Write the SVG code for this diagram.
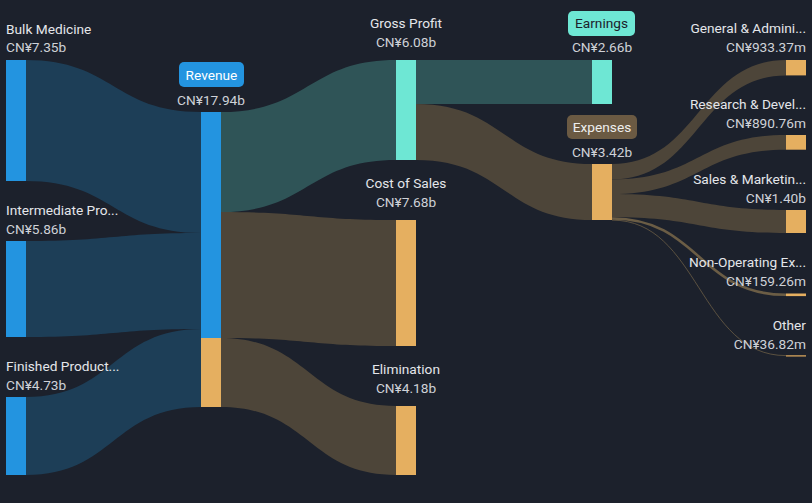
<svg xmlns="http://www.w3.org/2000/svg" width="812" height="503" viewBox="0 0 812 503">
<style>
.bg{fill:#1c212c}
.fb{fill:#1d3e57}
.ft{fill:#2f5457}
.fn{fill:#4d4539}
.bb{fill:#2394e0}
.bt{fill:#6ee7d4}
.bn{fill:#e5af60}
text{font-family:Roboto,"Liberation Sans",sans-serif;font-size:13.7px}
.lb{fill:#e4e6ea}
.vl{fill:#cfd2d8}
.m{text-anchor:middle}
.e{text-anchor:end}
</style>
<rect class="bg" x="0" y="0" width="812" height="503"/>
<g id="connectors">
<path class="fb" d="M26,60 C113.5,60 113.5,112 201,112 L201,233 C113.5,233 113.5,181 26,181 Z"/>
<path class="fb" d="M26,241 C113.5,241 113.5,233 201,233 L201,329 C113.5,329 113.5,337 26,337 Z"/>
<path class="fb" d="M26,397 C113.5,397 113.5,329 201,329 L201,407 C113.5,407 113.5,475 26,475 Z"/>
<path class="ft" d="M221,112 C308.5,112 308.5,60 396,60 L396,160 C308.5,160 308.5,212 221,212 Z"/>
<path class="fn" d="M221,212 C308.5,212 308.5,220 396,220 L396,346 C308.5,346 308.5,338 221,338 Z"/>
<path class="fn" d="M221,338 C308.5,338 308.5,406 396,406 L396,475 C308.5,475 308.5,407 221,407 Z"/>
<path class="ft" d="M416,60 C504,60 504,60 592,60 L592,104 C504,104 504,104 416,104 Z"/>
<path class="fn" d="M416,104 C504,104 504,164 592,164 L592,220 C504,220 504,160 416,160 Z"/>
<path class="fn" d="M612,164 C699,164 699,60 786,60 L786,75.4 C699,75.4 699,179.4 612,179.4 Z"/>
<path class="fn" d="M612,179.4 C699,179.4 699,135 786,135 L786,149.7 C699,149.7 699,194.1 612,194.1 Z"/>
<path class="fn" d="M612,194.1 C699,194.1 699,210 786,210 L786,233 C699,233 699,217.2 612,217.2 Z"/>
<path d="M612,218.5 C699,218.5 699,294.8 786,294.8" fill="none" stroke="#6b5d45" stroke-width="2.6"/>
<path d="M612,220.1 C699,220.1 699,355.6 786,355.6" fill="none" stroke="#6b5d45" stroke-width="0.8"/>
</g>
<g id="bulk-medicine">
<rect class="bb" x="6" y="60" width="20" height="121"/>
<text class="lb" x="6" y="34">Bulk Medicine</text>
<text class="vl" x="6" y="52">CN¥7.35b</text>
</g>
<g id="intermediate">
<rect class="bb" x="6" y="241" width="20" height="96"/>
<text class="lb" x="6" y="215">Intermediate Pro...</text>
<text class="vl" x="6" y="234">CN¥5.86b</text>
</g>
<g id="finished">
<rect class="bb" x="6" y="397" width="20" height="78"/>
<text class="lb" x="6" y="371">Finished Product...</text>
<text class="vl" x="6" y="390">CN¥4.73b</text>
</g>
<g id="revenue">
<rect class="bb" x="201" y="112" width="20" height="226"/>
<rect class="bn" x="201" y="338" width="20" height="69"/>
<rect class="bb" x="179" y="62" width="65" height="25" rx="5"/>
<text class="m" x="211.5" y="80" fill="#ffffff">Revenue</text>
<text class="vl m" x="211" y="105">CN¥17.94b</text>
</g>
<g id="gross-profit">
<rect class="bt" x="396" y="60" width="20" height="100"/>
<text class="lb m" x="406" y="28">Gross Profit</text>
<text class="vl m" x="406" y="47">CN¥6.08b</text>
</g>
<g id="cost-of-sales">
<rect class="bn" x="396" y="220" width="20" height="126"/>
<text class="lb m" x="406" y="188">Cost of Sales</text>
<text class="vl m" x="406" y="207">CN¥7.68b</text>
</g>
<g id="elimination">
<rect class="bn" x="396" y="406" width="20" height="69"/>
<text class="lb m" x="406" y="374">Elimination</text>
<text class="vl m" x="406" y="393">CN¥4.18b</text>
</g>
<g id="earnings">
<rect class="bt" x="592" y="60" width="20" height="44"/>
<rect class="bt" x="568" y="11" width="67" height="25" rx="5"/>
<text class="m" x="601.5" y="28" fill="#1c212c">Earnings</text>
<text class="vl m" x="602" y="52">CN¥2.66b</text>
</g>
<g id="expenses">
<rect class="bn" x="592" y="164" width="20" height="56"/>
<rect x="567" y="115" width="70" height="24" rx="5" fill="#6b5a43"/>
<text class="m" x="602" y="132" fill="#eeeeee">Expenses</text>
<text class="vl m" x="602" y="157">CN¥3.42b</text>
</g>
<g id="general-admin">
<rect class="bn" x="786" y="60" width="20" height="15.4"/>
<text class="lb e" x="806" y="33">General &amp; Admini...</text>
<text class="vl e" x="806" y="52">CN¥933.37m</text>
</g>
<g id="research-dev">
<rect class="bn" x="786" y="135" width="20" height="14.7"/>
<text class="lb e" x="806" y="109">Research &amp; Devel...</text>
<text class="vl e" x="806" y="128">CN¥890.76m</text>
</g>
<g id="sales-marketing">
<rect class="bn" x="786" y="210" width="20" height="23"/>
<text class="lb e" x="806" y="184">Sales &amp; Marketin...</text>
<text class="vl e" x="806" y="203">CN¥1.40b</text>
</g>
<g id="non-operating">
<rect class="bn" x="786" y="293.5" width="20" height="2.6"/>
<text class="lb e" x="806" y="267">Non-Operating Ex...</text>
<text class="vl e" x="806" y="286">CN¥159.26m</text>
</g>
<g id="other">
<rect class="bn" x="786" y="355.3" width="20" height="1.2"/>
<text class="lb e" x="806" y="330">Other</text>
<text class="vl e" x="806" y="349">CN¥36.82m</text>
</g>
</svg>
